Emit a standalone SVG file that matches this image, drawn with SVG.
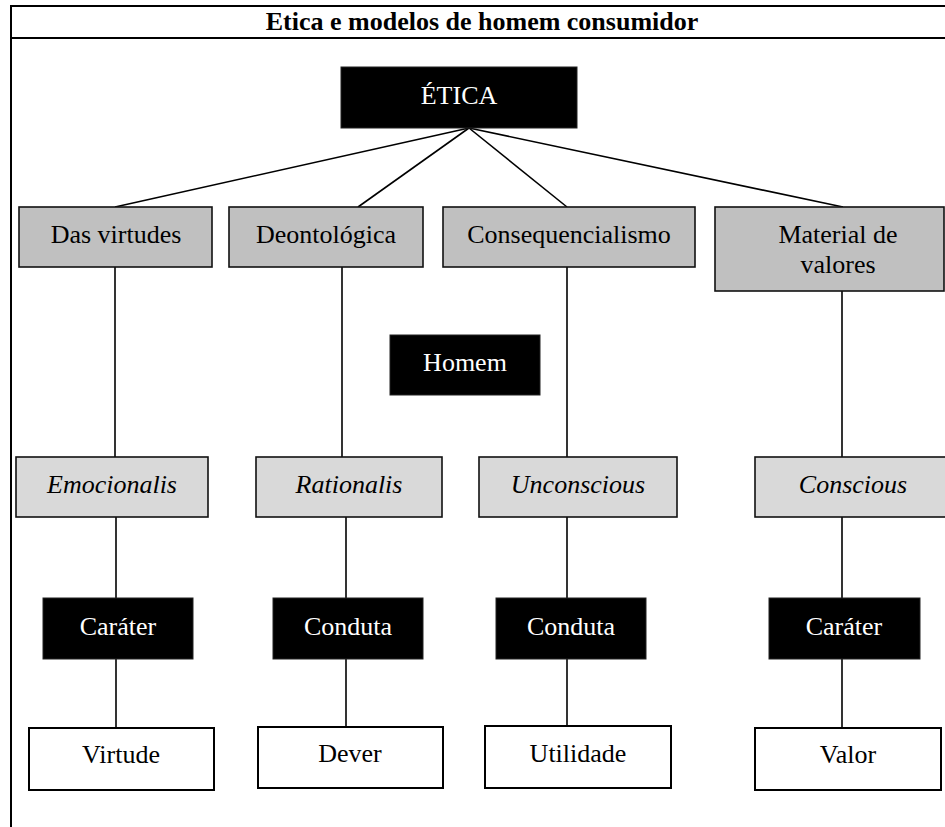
<svg xmlns="http://www.w3.org/2000/svg" width="945" height="827" viewBox="0 0 945 827" font-family="'Liberation Serif', 'Times New Roman', serif">
<style>
text{font-family:"Liberation Serif","Times New Roman",serif;font-size:26px;text-anchor:middle;fill:#000}
.dark rect{fill:#000;stroke:#222;stroke-width:1}
.dark text{fill:#fff}
.g1 rect{fill:#c0c0c0;stroke:#111;stroke-width:1.6}
.g2 rect{fill:#d9d9d9;stroke:#111;stroke-width:1.6}
.g2 text{font-style:italic}
.w rect{fill:#fff;stroke:#000;stroke-width:2}
.frame{stroke:#000;stroke-width:2;fill:none}
.conn line{stroke:#000;stroke-width:1.6}
.title{font-weight:bold;font-size:26px}
</style>
<rect width="945" height="827" fill="#fff"/>
<g id="frame">
<line class="frame" x1="11" y1="6" x2="945" y2="6"/>
<line class="frame" x1="11" y1="38" x2="945" y2="38"/>
<line class="frame" x1="11" y1="5" x2="11" y2="827"/>
<text class="title" x="482" y="30">Etica e modelos de homem consumidor</text>
</g>
<g id="connectors" class="conn">
<line x1="469" y1="128" x2="115" y2="207"/>
<line x1="469" y1="128" x2="358" y2="207"/>
<line x1="469" y1="128" x2="567" y2="207"/>
<line x1="469" y1="128" x2="843" y2="207"/>
<line x1="115" y1="267" x2="115" y2="457"/>
<line x1="342" y1="267" x2="342" y2="457"/>
<line x1="567" y1="267" x2="567" y2="457"/>
<line x1="842" y1="291" x2="842" y2="457"/>
<line x1="116" y1="517" x2="116" y2="598"/>
<line x1="346" y1="517" x2="346" y2="598"/>
<line x1="567" y1="517" x2="567" y2="598"/>
<line x1="842" y1="517" x2="842" y2="598"/>
<line x1="116" y1="659" x2="116" y2="728"/>
<line x1="346" y1="659" x2="346" y2="727"/>
<line x1="567" y1="659" x2="567" y2="726"/>
<line x1="842" y1="659" x2="842" y2="728"/>
</g>
<g id="etica" class="dark"><rect x="341" y="67" width="236" height="61"/><text x="459" y="104">ÉTICA</text></g>
<g id="das-virtudes" class="g1"><rect x="19" y="207" width="193" height="60"/><text x="116" y="243">Das virtudes</text></g>
<g id="deontologica" class="g1"><rect x="229" y="207" width="194" height="60"/><text x="326" y="243">Deontológica</text></g>
<g id="consequencialismo" class="g1"><rect x="443" y="207" width="252" height="60"/><text x="569" y="243">Consequencialismo</text></g>
<g id="material" class="g1"><rect x="715" y="207" width="229" height="84"/><text x="838" y="243">Material de</text><text x="838" y="273">valores</text></g>
<g id="homem" class="dark"><rect x="390" y="335" width="150" height="60"/><text x="465" y="371">Homem</text></g>
<g id="emocionalis" class="g2"><rect x="16" y="457" width="192" height="60"/><text x="112" y="493">Emocionalis</text></g>
<g id="rationalis" class="g2"><rect x="256" y="457" width="186" height="60"/><text x="349" y="493">Rationalis</text></g>
<g id="unconscious" class="g2"><rect x="479" y="457" width="198" height="60"/><text x="578" y="493">Unconscious</text></g>
<g id="conscious" class="g2"><rect x="755" y="457" width="200" height="60"/><text x="853" y="493">Conscious</text></g>
<g id="carater1" class="dark"><rect x="43" y="598" width="150" height="61"/><text x="118" y="635">Caráter</text></g>
<g id="conduta1" class="dark"><rect x="273" y="598" width="150" height="61"/><text x="348" y="635">Conduta</text></g>
<g id="conduta2" class="dark"><rect x="496" y="598" width="150" height="61"/><text x="571" y="635">Conduta</text></g>
<g id="carater2" class="dark"><rect x="769" y="598" width="151" height="61"/><text x="844" y="635">Caráter</text></g>
<g id="virtude" class="w"><rect x="29" y="728" width="185" height="62"/><text x="121" y="763">Virtude</text></g>
<g id="dever" class="w"><rect x="258" y="727" width="185" height="61"/><text x="350" y="762">Dever</text></g>
<g id="utilidade" class="w"><rect x="485" y="726" width="186" height="62"/><text x="578" y="762">Utilidade</text></g>
<g id="valor" class="w"><rect x="755" y="728" width="186" height="62"/><text x="848" y="763">Valor</text></g>
</svg>
